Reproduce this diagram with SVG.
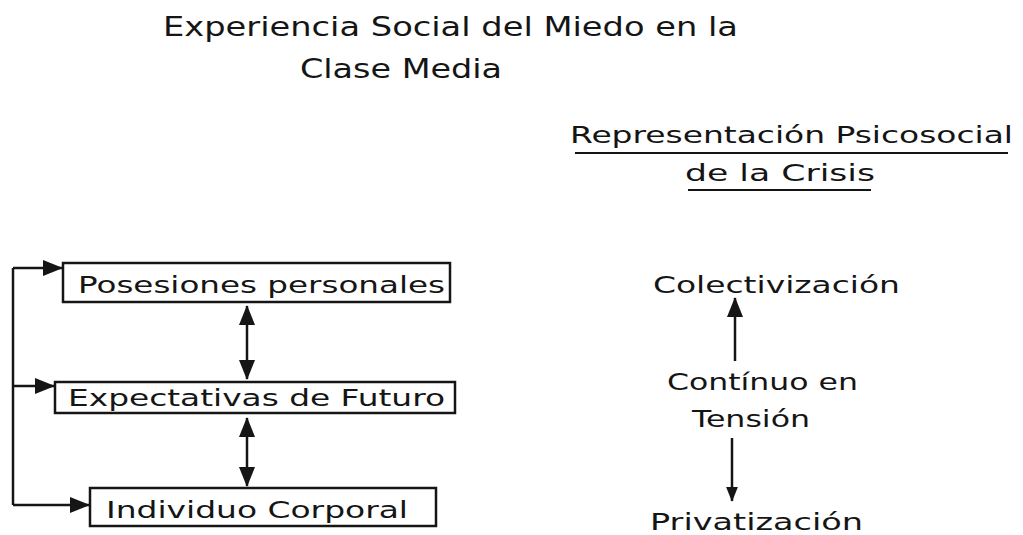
<svg xmlns="http://www.w3.org/2000/svg" width="1023" height="535" viewBox="0 0 1023 535">
<style>
text{font-family:"DejaVu Sans","Liberation Sans",sans-serif;fill:#151515;}
.t{font-size:26px;}
.b{font-size:23px;}
.r{font-size:23px;}
.box{fill:none;stroke:#151515;stroke-width:2.5;}
.ln{fill:none;stroke:#151515;stroke-width:2.5;}
.ul{stroke:#151515;stroke-width:2;}
</style>
<defs>
<marker id="ah" viewBox="0 0 20 20" refX="19" refY="10" markerWidth="20" markerHeight="20" orient="auto-start-reverse" markerUnits="userSpaceOnUse">
<path d="M0,2 L20,10 L0,18 z" fill="#151515"/>
</marker>
<marker id="ahs" viewBox="0 0 20 20" refX="19" refY="10" markerWidth="15" markerHeight="15" orient="auto-start-reverse" markerUnits="userSpaceOnUse">
<path d="M0,2 L20,10 L0,18 z" fill="#151515"/>
</marker>
</defs>
<rect width="1023" height="535" fill="#ffffff"/>
<g id="title">
<text class="t" x="163" y="36" textLength="575" lengthAdjust="spacingAndGlyphs">Experiencia Social del Miedo en la</text>
<text class="t" x="300" y="78" textLength="202" lengthAdjust="spacingAndGlyphs">Clase Media</text>
</g>
<g id="heading">
<text class="r" x="570" y="143" textLength="443" lengthAdjust="spacingAndGlyphs">Representación Psicosocial</text>
<line class="ul" x1="575" y1="153" x2="1008" y2="153"/>
<text class="r" x="685" y="181" textLength="190" lengthAdjust="spacingAndGlyphs">de la Crisis</text>
<line class="ul" x1="688" y1="190" x2="871" y2="190"/>
</g>
<g id="node-posesiones">
<rect class="box" x="63" y="263" width="387" height="39"/>
<text class="b" x="78" y="293" textLength="367" lengthAdjust="spacingAndGlyphs">Posesiones personales</text>
</g>
<g id="node-expectativas">
<rect class="box" x="55" y="382" width="400" height="31"/>
<text class="b" x="68" y="406" textLength="377" lengthAdjust="spacingAndGlyphs">Expectativas de Futuro</text>
</g>
<g id="node-individuo">
<rect class="box" x="90" y="488" width="346" height="38"/>
<text class="b" x="106" y="518" textLength="302" lengthAdjust="spacingAndGlyphs">Individuo Corporal</text>
</g>
<g id="node-colectivizacion">
<text class="r" x="653" y="293" textLength="247" lengthAdjust="spacingAndGlyphs">Colectivización</text>
</g>
<g id="node-continuo">
<text class="r" x="667" y="390" textLength="191" lengthAdjust="spacingAndGlyphs">Contínuo en</text>
<text class="r" x="692" y="427" textLength="118" lengthAdjust="spacingAndGlyphs">Tensión</text>
</g>
<g id="node-privatizacion">
<text class="r" x="650" y="530" textLength="213" lengthAdjust="spacingAndGlyphs">Privatización</text>
</g>
<g id="connectors">
<polyline class="ln" points="13,268 13,505"/>
<line class="ln" x1="13" y1="268" x2="62" y2="268" marker-end="url(#ah)"/>
<line class="ln" x1="13" y1="386" x2="54" y2="386" marker-end="url(#ah)"/>
<line class="ln" x1="13" y1="505" x2="89" y2="505" marker-end="url(#ah)"/>
<line class="ln" x1="247" y1="306" x2="247" y2="379" marker-start="url(#ah)" marker-end="url(#ah)"/>
<line class="ln" x1="247" y1="418" x2="247" y2="486" marker-start="url(#ah)" marker-end="url(#ah)"/>
<line class="ln" x1="735" y1="361" x2="735" y2="298" marker-end="url(#ah)"/>
<line class="ln" x1="732" y1="438" x2="732" y2="501" stroke-width="1.5" marker-end="url(#ahs)"/>
</g>
</svg>
